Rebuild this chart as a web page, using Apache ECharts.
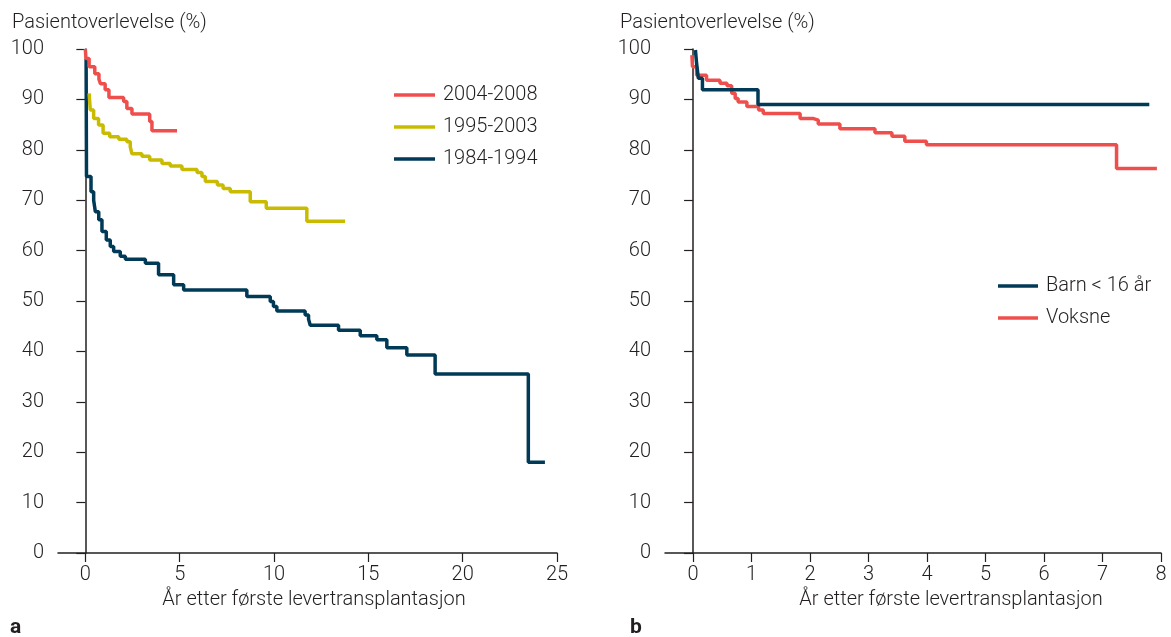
<!DOCTYPE html>
<html><head><meta charset="utf-8">
<script src="https://cdn.jsdelivr.net/npm/echarts@6/dist/echarts.min.js"></script>
<style>html,body{margin:0;padding:0;background:#fff}#c{width:1171px;height:637px}</style>
</head><body><div id="c"></div>
<script>
// Panel a
const xTicksA = [0, 5, 10, 15, 20, 25];
const yTicks = [0, 10, 20, 30, 40, 50, 60, 70, 80, 90, 100];
const namesA = ['2004-2008', '1995-2003', '1984-1994'];
const s2004 = [[0,100],[0.03,98.1],[0.2,96.5],[0.5,95.1],[0.72,94.0],[0.8,93.1],[1.05,91.9],[1.25,90.4],[2.03,89.6],[2.2,88.2],[2.47,87.1],[3.41,85.6],[3.53,83.8],[4.86,83.8]];
const s1995 = [[0.2,91.2],[0.26,87.9],[0.44,86.2],[0.7,84.9],[0.94,83.3],[1.29,82.6],[1.77,82.1],[2.2,81.6],[2.38,80.6],[2.47,79.2],[3.0,78.7],[3.41,78.0],[4.06,77.3],[4.5,76.8],[5.12,76.1],[5.92,75.5],[6.18,74.7],[6.36,73.7],[7.0,73.0],[7.3,72.3],[7.68,71.7],[8.74,69.7],[9.59,68.4],[11.74,65.8],[13.77,65.8]];
const s1984 = [[0.04,98.0],[0.06,74.7],[0.3,71.7],[0.44,70.0],[0.53,67.7],[0.71,66.1],[0.88,63.8],[1.11,62.1],[1.32,60.8],[1.5,59.8],[1.85,58.9],[2.12,58.3],[3.18,57.5],[3.88,55.2],[4.68,53.2],[5.21,52.2],[8.56,50.9],[9.8,49.9],[9.97,48.9],[10.15,48.0],[11.65,47.2],[11.83,46.4],[11.92,45.2],[13.42,44.2],[14.57,43.1],[15.45,42.3],[15.98,40.7],[17.04,39.3],[18.54,35.5],[23.48,18.0],[24.36,18.0]];
// Panel b
const xTicksB = [0, 1, 2, 3, 4, 5, 6, 7, 8];
const namesB = ['Barn < 16 år', 'Voksne'];
const sBarn = [[0.04,99.8],[0.06,97.2],[0.09,94.2],[0.16,91.9],[1.11,89.0],[7.8,89.0]];
const sVoksne = [[-0.02,98.8],[-0.01,96.5],[0.06,94.8],[0.23,93.8],[0.46,93.2],[0.58,92.7],[0.66,91.2],[0.72,90.2],[0.77,89.5],[0.92,88.6],[1.12,87.9],[1.2,87.2],[1.83,86.2],[2.06,85.9],[2.14,85.1],[2.51,84.2],[3.11,83.4],[3.4,82.7],[3.62,81.7],[3.99,81.0],[7.24,76.3],[7.93,76.3]];

const RED = '#EF4F4C', YEL = '#C9BC00', NAVY = '#003A56', TXT = '#231F20';
const FONT = 'Roboto, "Liberation Sans", sans-serif';
const FW = 300;

function xAxis(gi, min, max, ticks) {
  return {
    type: 'value', gridIndex: gi, min: min, max: max,
    axisLine: { show: true, onZero: false, lineStyle: { color: TXT, width: 1.5 } },
    axisTick: { show: true, length: 9, customValues: ticks, lineStyle: { color: TXT, width: 1.2 } },
    axisLabel: { customValues: ticks, fontSize: 20, fontWeight: FW, color: TXT, fontFamily: FONT, margin: 12 },
    splitLine: { show: false }
  };
}
function yAxis(gi) {
  return {
    type: 'value', gridIndex: gi, min: 0, max: 100, interval: 10,
    axisLine: { show: true, lineStyle: { color: TXT, width: 1.5 } },
    axisTick: { show: true, length: 9, lineStyle: { color: TXT, width: 1.2 } },
    axisLabel: { fontSize: 20, fontWeight: FW, color: TXT, fontFamily: FONT, margin: 14 },
    splitLine: { show: false }
  };
}
function line(name, data, color, gi) {
  return { name: name, type: 'line', xAxisIndex: gi, yAxisIndex: gi, data: data, step: 'end',
    symbol: 'none', showSymbol: false, lineStyle: { color: color, width: 3.5 }, itemStyle: { color: color } };
}
const legendText = { fontSize: 20, fontWeight: FW, color: TXT, fontFamily: FONT, lineHeight: 20, padding: [0, 0, 0, 3] };

const chart = echarts.init(document.getElementById('c'), null, { renderer: 'canvas' });
chart.setOption({
  animation: false,
  backgroundColor: '#fff',
  textStyle: { fontFamily: FONT },
  grid: [
    { left: 58, top: 49, width: 499, height: 504 },
    { left: 665, top: 49, width: 496, height: 504 }
  ],
  xAxis: [xAxis(0, -1.45, 25, xTicksA), xAxis(1, -0.48, 8, xTicksB)],
  yAxis: [yAxis(0), yAxis(1)],
  legend: [
    { data: namesA.map(n => ({ name: n, icon: 'rect' })), orient: 'vertical', left: 389, top: 80, itemWidth: 41, itemHeight: 3.5, itemGap: 12,
      textStyle: legendText },
    { data: namesB.map(n => ({ name: n, icon: 'rect' })), orient: 'vertical', left: 993, top: 271, itemWidth: 40, itemHeight: 3.5, itemGap: 12,
      textStyle: legendText }
  ],
  graphic: [
    { type: 'text', x: 12, y: 23, style: { text: 'Pasientoverlevelse (%)', fontSize: 20, fontWeight: FW, fill: TXT, fontFamily: FONT, verticalAlign: 'middle' } },
    { type: 'text', x: 620, y: 23, style: { text: 'Pasientoverlevelse (%)', fontSize: 20, fontWeight: FW, fill: TXT, fontFamily: FONT, verticalAlign: 'middle' } },
    { type: 'text', x: 314, y: 600, style: { text: 'År etter første levertransplantasjon', fontSize: 20, fontWeight: FW, fill: TXT, fontFamily: FONT, align: 'center', verticalAlign: 'middle' } },
    { type: 'text', x: 951, y: 600, style: { text: 'År etter første levertransplantasjon', fontSize: 20, fontWeight: FW, fill: TXT, fontFamily: FONT, align: 'center', verticalAlign: 'middle' } },
    { type: 'text', x: 10, y: 628, style: { text: 'a', fontSize: 21, fontWeight: 'bold', fill: TXT, fontFamily: FONT, verticalAlign: 'middle' } },
    { type: 'text', x: 630, y: 628, style: { text: 'b', fontSize: 21, fontWeight: 'bold', fill: TXT, fontFamily: FONT, verticalAlign: 'middle' } }
  ],
  series: [
    line(namesA[2], s1984, NAVY, 0),
    line(namesA[1], s1995, YEL, 0),
    line(namesA[0], s2004, RED, 0),
    line(namesB[1], sVoksne, RED, 1),
    line(namesB[0], sBarn, NAVY, 1)
  ]
});
</script>
</body></html>
